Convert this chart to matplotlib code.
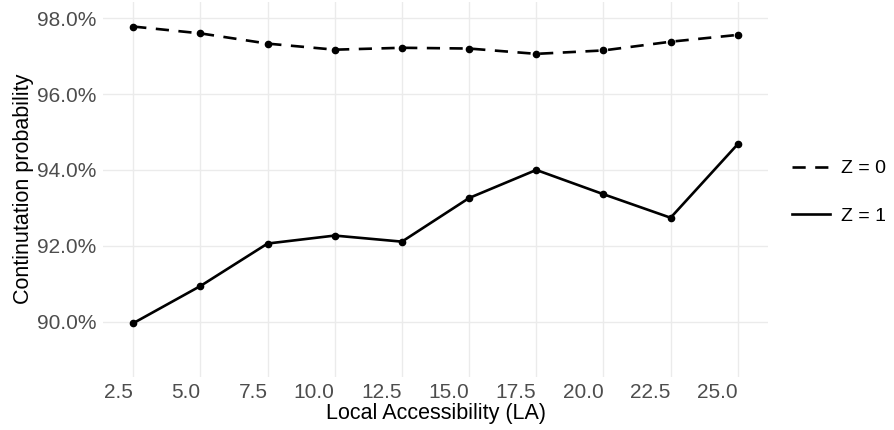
import matplotlib.pyplot as plt
from matplotlib.ticker import FuncFormatter

plt.rcParams['font.family'] = ['Liberation Sans', 'DejaVu Sans']

# data
la = [2.5, 5.0, 7.5, 10.0, 12.5, 15.0, 17.5, 20.0, 22.5, 25.0]
z0 = [97.78, 97.60, 97.33, 97.17, 97.22, 97.20, 97.06, 97.15, 97.38, 97.56]
z1 = [89.96, 90.94, 92.06, 92.27, 92.11, 93.26, 94.00, 93.36, 92.74, 94.68]
x_ticks = [2.5, 5.0, 7.5, 10.0, 12.5, 15.0, 17.5, 20.0, 22.5, 25.0]
y_ticks = [90, 92, 94, 96, 98]
labels = ['Z = 0', 'Z = 1']


def main():
    fig = plt.figure(figsize=(8.95, 4.3), dpi=100)
    ax = fig.add_axes([103 / 895, 1 - 376.7 / 430, 665 / 895, 375.2 / 430])

    ax.plot(la, z0, color='black', lw=1.9, linestyle=(0, (5, 3.6)), label=labels[0])
    ax.plot(la, z1, color='black', lw=1.9, linestyle='-', label=labels[1])
    ax.plot(la, z0, 'o', color='black', ms=4.5, zorder=3)
    ax.plot(la, z1, 'o', color='black', ms=4.5, zorder=3)

    ax.set_xlim(1.375, 26.125)
    ax.set_ylim(88.55, 98.44)
    ax.set_xticks(x_ticks)
    ax.set_yticks(y_ticks)
    ax.xaxis.set_major_formatter(FuncFormatter(lambda v, p: f"{v:.1f}"))
    ax.yaxis.set_major_formatter(FuncFormatter(lambda v, p: f"{v:.1f}%"))
    for t in ax.get_xticklabels():
        t.set_ha('right')

    ax.tick_params(axis='both', length=0, labelsize=15, labelcolor='#4D4D4D')
    ax.tick_params(axis='x', pad=4.5)
    ax.tick_params(axis='y', pad=4.5)
    ax.grid(True, color='#EBEBEB', lw=1.0)
    ax.set_axisbelow(True)
    for s in ax.spines.values():
        s.set_visible(False)

    ax.set_xlabel('Local Accessibility (LA)', fontsize=15.5, labelpad=1)
    ax.set_ylabel('Continutation probability', fontsize=15.5, labelpad=2)

    fig.legend(loc='center left', bbox_to_anchor=(791.7 / 895, 1 - 192.5 / 430),
               frameon=False, fontsize=14, handlelength=1.96, handletextpad=0.6,
               labelspacing=1.55, borderpad=0, borderaxespad=0)

    fig.savefig('out.png', dpi=100)
    plt.close(fig)


if __name__ == '__main__':
    main()
